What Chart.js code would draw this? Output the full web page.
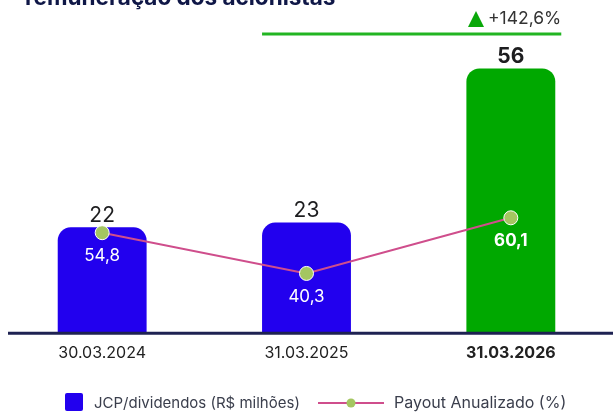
<!DOCTYPE html>
<html>
<head>
<meta charset="utf-8">
<script src="https://cdn.jsdelivr.net/npm/chart.js@4"></script>
<style>
  html, body { margin: 0; padding: 0; background: #fff; }
  #wrap { position: relative; width: 613px; height: 412px; overflow: hidden; }
</style>
</head>
<body>
<div id="wrap"><canvas id="grafico"></canvas></div>
<script>
// dados
const categorias = ['30.03.2024', '31.03.2025', '31.03.2026'];
const jcpDividendos = [22.4, 23.4, 56];
const payoutAnualizado = [54.8, 40.3, 60.1];
const coresBarras = ['#2200EE', '#2200EE', '#00A800'];
const variacao = '+142,6%';
const titulo = 'remuneração dos acionistas';
const legendas = ['JCP/dividendos (R$ milhões)', 'Payout Anualizado (%)'];

const FONTE = 'Inter, "Noto Sans", sans-serif';
const fmt = v => v.toFixed(1).replace('.', ',');

const rotulos = {
    id: 'rotulos',
    afterDatasetsDraw(chart) {
        const ctx = chart.ctx;
        const barras = chart.getDatasetMeta(1).data;
        const pontos = chart.getDatasetMeta(0).data;
        const ultimo = barras.length - 1;

        // linha do eixo
        const y0 = chart.scales.y.getPixelForValue(0);
        ctx.save();
        ctx.strokeStyle = '#1E2252';
        ctx.lineWidth = 3;
        ctx.beginPath();
        ctx.moveTo(8, y0);
        ctx.lineTo(chart.chartArea.right, y0);
        ctx.stroke();

        ctx.textAlign = 'center';
        ctx.textBaseline = 'middle';

        // valores acima das barras
        barras.forEach((b, i) => {
            const negrito = i === ultimo;
            ctx.font = (negrito ? 'bold ' : '') + '21px ' + FONTE;
            ctx.fillStyle = '#1d1d1f';
            ctx.fillText(String(Math.round(jcpDividendos[i])), b.x, b.y - 12);
        });

        // payout dentro das barras
        pontos.forEach((p, i) => {
            const negrito = i === ultimo;
            ctx.font = (negrito ? 'bold ' : '') + '17px ' + FONTE;
            ctx.fillStyle = '#ffffff';
            ctx.fillText(fmt(payoutAnualizado[i]), p.x, p.y + 23);
        });

        // variação no topo
        const b2 = barras[1], b3 = barras[ultimo];
        const xi = b2.x - b2.width / 2;
        const xf = b3.x + b3.width / 2 + 6;
        ctx.strokeStyle = '#22B522';
        ctx.lineWidth = 3;
        ctx.beginPath();
        ctx.moveTo(xi, 34);
        ctx.lineTo(xf, 34);
        ctx.stroke();

        ctx.font = '17.5px ' + FONTE;
        ctx.fillStyle = '#333';
        ctx.textAlign = 'right';
        ctx.fillText(variacao, xf, 19);
        const wt = ctx.measureText(variacao).width;
        const tx = xf - wt - 12;
        ctx.fillStyle = '#0AA80A';
        ctx.beginPath();
        ctx.moveTo(tx - 8, 27);
        ctx.lineTo(tx + 8, 27);
        ctx.lineTo(tx, 11);
        ctx.closePath();
        ctx.fill();

        // título (cortado no topo)
        ctx.textAlign = 'left';
        ctx.textBaseline = 'alphabetic';
        ctx.font = 'bold 22.5px ' + FONTE;
        ctx.fillStyle = '#0F1747';
        ctx.fillText(titulo, 25, 5);

        // legenda
        ctx.textBaseline = 'middle';
        const ly = 403;
        ctx.fillStyle = coresBarras[0];
        ctx.beginPath();
        ctx.roundRect(65, 393, 18, 18, 2);
        ctx.fill();
        ctx.font = '15px ' + FONTE;
        ctx.fillStyle = '#3a3e4c';
        ctx.fillText(legendas[0], 94, ly);

        ctx.strokeStyle = '#CF4E8C';
        ctx.lineWidth = 2;
        ctx.beginPath();
        ctx.moveTo(318, ly);
        ctx.lineTo(384, ly);
        ctx.stroke();
        ctx.fillStyle = '#A4C661';
        ctx.beginPath();
        ctx.arc(351, ly, 4.5, 0, Math.PI * 2);
        ctx.fill();
        ctx.fillStyle = '#3a3e4c';
        ctx.font = '16px ' + FONTE;
        ctx.fillText(legendas[1], 394, ly);
        ctx.restore();
    }
};

new Chart(document.getElementById('grafico'), {
    data: {
        labels: categorias,
        datasets: [{
            type: 'line',
            label: legendas[1],
            data: payoutAnualizado,
            yAxisID: 'y2',
            borderColor: '#CF4E8C',
            borderWidth: 2,
            pointRadius: 7,
            pointBackgroundColor: '#A4C661',
            pointBorderColor: '#ffffff',
            pointBorderWidth: 1,
            tension: 0,
            order: 1
        }, {
            type: 'bar',
            label: legendas[0],
            data: jcpDividendos,
            backgroundColor: coresBarras,
            borderRadius: { topLeft: 13, topRight: 13 },
            borderSkipped: 'bottom',
            barPercentage: 0.435,
            categoryPercentage: 1,
            order: 2
        }]
    },
    options: {
        responsive: true,
        maintainAspectRatio: false,
        animation: false,
        layout: { autoPadding: false, padding: { top: 49.5, bottom: 39.5, left: 0, right: 0 } },
        plugins: {
            legend: { display: false },
            tooltip: { enabled: false }
        },
        scales: {
            x: {
                grid: { display: false, drawTicks: false },
                border: { display: false },
                ticks: {
                    padding: 10,
                    color: '#222',
                    font: ctx => ({ family: FONTE, size: 16, weight: ctx.index === 2 ? 'bold' : 'normal' })
                }
            },
            y: { display: false, min: 0, max: 60 },
            y2: { display: false, min: 19, max: 120 }
        }
    },
    plugins: [rotulos]
});
</script>
</body>
</html>
